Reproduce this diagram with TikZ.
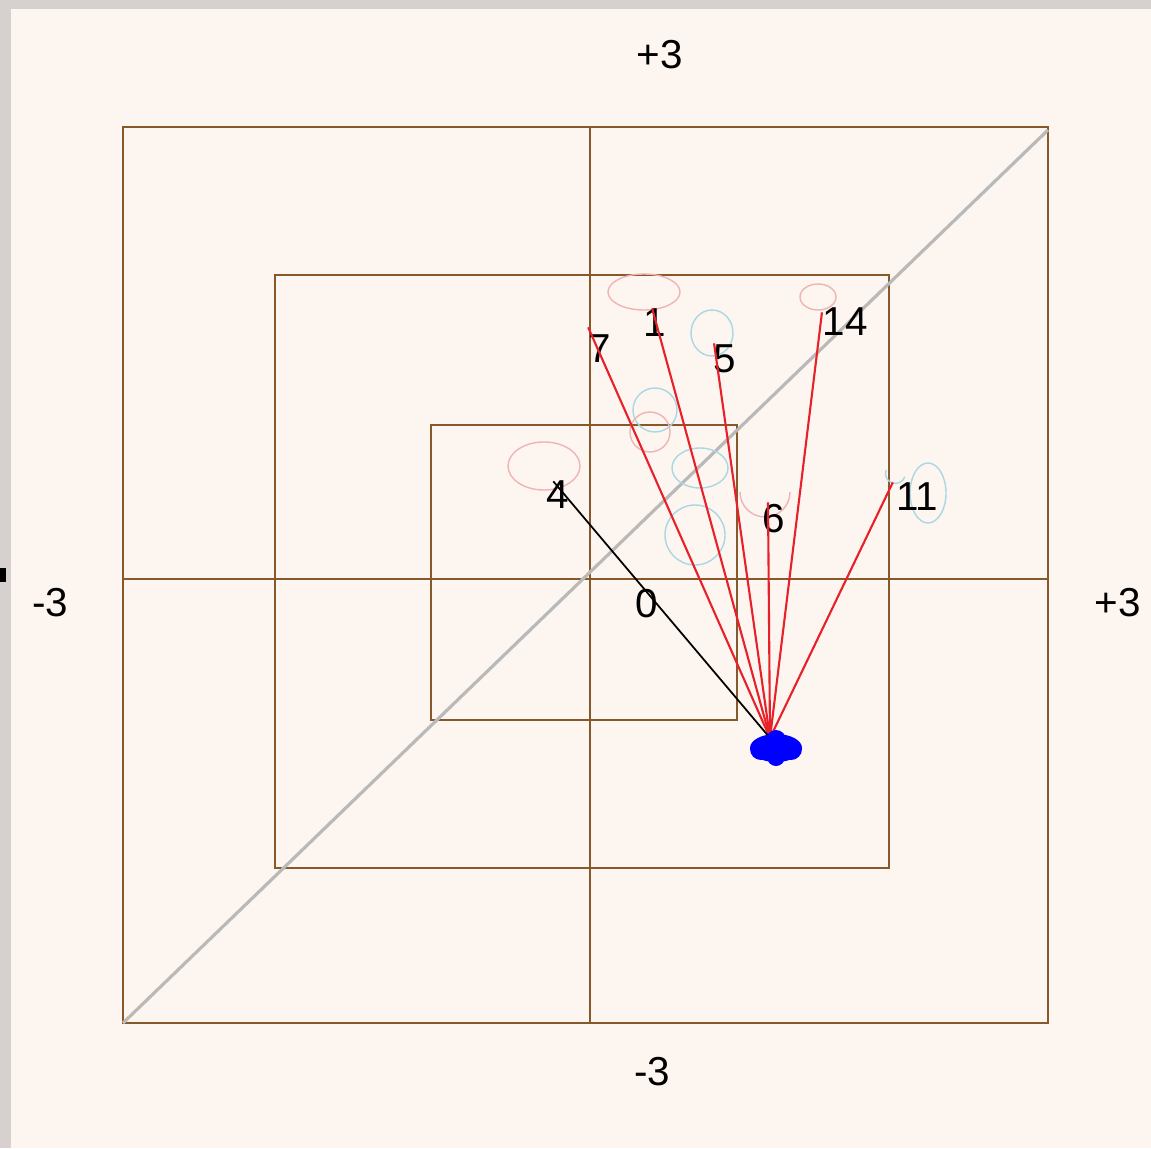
\documentclass[tikz,border=0pt]{standalone}
\usepackage{fontspec}
\setmainfont{Liberation Sans}
\definecolor{paper}{RGB}{253,245,239}
\definecolor{rim}{RGB}{214,208,206}
\definecolor{boxbrown}{RGB}{135,88,42}
\definecolor{diag}{RGB}{185,185,185}
\definecolor{edgered}{RGB}{232,32,42}
\definecolor{loopred}{RGB}{240,180,180}
\definecolor{loopblue}{RGB}{170,215,228}

\begin{document}
\begin{tikzpicture}[x=0.02cm,y=-0.02cm,
  frame/.style={draw=boxbrown,line width=1.5pt},
  lbl/.style={font=\fontsize{23}{25}\selectfont,inner sep=0pt},
  vx/.style={inner sep=0pt,minimum size=0pt},
  edge/.style={draw=edgered,line width=1.2pt},
  loopr/.style={draw=loopred,line width=0.8pt},
  loopb/.style={draw=loopblue,line width=0.8pt}]
\useasboundingbox (0,0) rectangle (1151,1148);
\fill[rim] (0,0) rectangle (1151,1148);
\fill[paper] (11,9) rectangle (1151,1148);
\fill[black] (0,568) rectangle (6,582);
% axis labels
\node[lbl] (top) at (660,55){+3};
\node[lbl] (left) at (50,603){-3};
\node[lbl] (right) at (1118,603){+3};
\node[lbl] (bottom) at (652,1072){-3};
% squares and cross
\draw[frame] (123,127) rectangle (1048,1023);
\draw[frame] (275,275) rectangle (889,868);
\draw[frame] (431,425) rectangle (737,720);
\draw[frame] (590,127) -- (590,1023);
\draw[frame] (123,579) -- (1048,579);
\draw[diag,line width=1.8pt] (123,1023) -- (1048,130);
% faint loops
\draw[loopr] (644,292) ellipse (36 and 18);
\draw[loopr] (818,297) ellipse (18 and 13);
\draw[loopb] (712,333) ellipse (21 and 23);
\draw[loopr] (544,466) ellipse (36 and 24);
\draw[loopr] (740,492) arc (180:0:25);
\draw[loopb] (928,493) ellipse (18 and 30);
\draw[loopb] (886,470) arc (200:20:10);
\draw[loopb] (655,410) circle (22);
\draw[loopr] (650,432) circle (20);
\draw[loopb] (700,468) ellipse (28 and 20);
\draw[loopb] (695,535) circle (30);
% vertices
\node[vx] (v7) at (588,327){};
\node[vx] (v1) at (652,308){};
\node[vx] (v5) at (714,343){};
\node[vx] (v14) at (822,312){};
\node[vx] (v6) at (768,502){};
\node[vx] (v11) at (893,482){};
\node[vx] (v4) at (553,481){};
\node[vx] (hub) at (770,738){};
\node[lbl] (l7) at (600,349){7};
\node[lbl] (l1) at (655,323){1};
\node[lbl] (l5) at (725,359){5};
\node[lbl] (l14) at (845,322){14};
\node[lbl] (l6) at (774,519){6};
\node[lbl] (l11) at (917,497){11};
\node[lbl] (l4) at (558,495){4};
\node[lbl] (l0) at (647,604){0};
% edges
\draw[edge] (hub) -- (v7);
\draw[edge] (hub) -- (v1);
\draw[edge] (hub) -- (v5);
\draw[edge] (hub) -- (v14);
\draw[edge] (hub) -- (v6);
\draw[edge] (hub) -- (v11);
\draw[black,line width=1pt] (hub) -- (v4);
\fill[blue] (776,748) ellipse (26 and 14) (761,749) circle (11) (791,749) circle (11)
  (776,740) circle (10) (776,757) circle (9);
\end{tikzpicture}
\end{document}
